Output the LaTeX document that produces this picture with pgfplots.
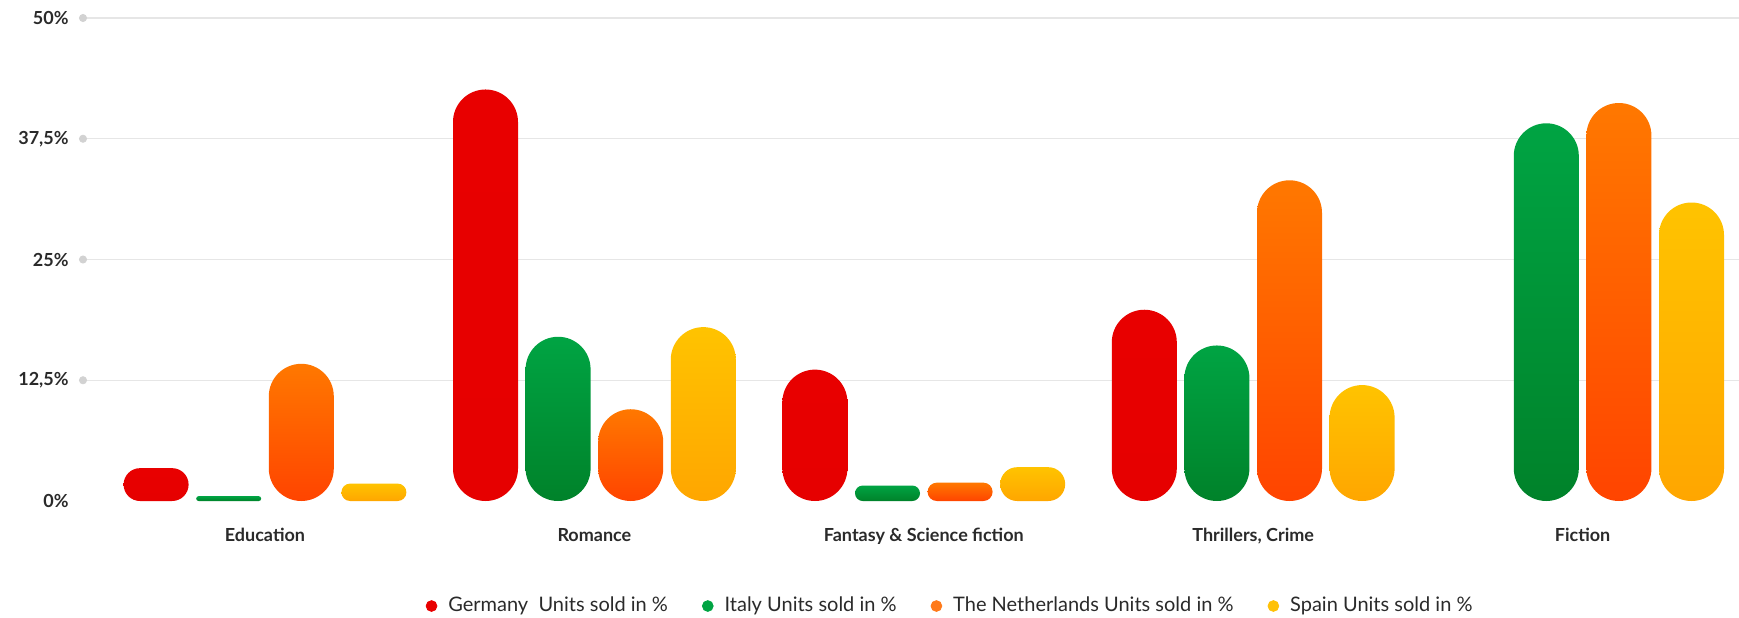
\documentclass[border=0pt]{standalone}
\usepackage{pgfplots}
\pgfplotsset{compat=1.18}
\usepackage{pgfplotstable}
\usepackage{fontspec}
\setmainfont{Lato}

\definecolor{deRed}{HTML}{E80000}
\definecolor{deRedB}{HTML}{E60000}
\definecolor{itTop}{HTML}{00A443}
\definecolor{itBot}{HTML}{00822A}
\definecolor{nlTop}{HTML}{FF7800}
\definecolor{nlBot}{HTML}{FF4400}
\definecolor{esTop}{HTML}{FFC300}
\definecolor{esBot}{HTML}{FFA600}
\definecolor{nlKey}{HTML}{FF7A1A}
\definecolor{esKey}{HTML}{FFC107}
\definecolor{gridGray}{HTML}{E6E6E6}
\definecolor{dotGray}{HTML}{D2D2D2}
\definecolor{labelGray}{HTML}{2A2A2A}

% units sold in %, one row per genre
\pgfplotstableread{
pos de   it   nl   es
0   3.4  0.5  14.2 1.8
1   42.6 17.0 9.5  18.0
2   13.6 1.6  1.9  3.5
3   19.8 16.1 33.2 12.0
4   nan  39.1 41.2 30.9
}\sales

% pill shaped bar hanging from the data point down to 0 %
\newcommand\yunit{4.83}   % pt per percent
\newcommand\pillhw{16.25} % half bar width, pt
\newcommand\declarepill[3]{%
  \pgfdeclareplotmark{#1}{%
    \pgfmathsetmacro\pillh{\pillval*\yunit}%
    \pgfmathsetmacro\pillr{min(\pillhw,\pillh/2)}%
    \path[rounded corners=\pillr pt, top color=#2, bottom color=#3, draw=none]
      (-\pillhw pt,-\pillh pt) rectangle (\pillhw pt,0pt);}}
\declarepill{pillDE}{deRed}{deRedB}
\declarepill{pillIT}{itTop}{itBot}
\declarepill{pillNL}{nlTop}{nlBot}
\declarepill{pillES}{esTop}{esBot}

\begin{document}
\begin{tikzpicture}
\useasboundingbox (0,0) rectangle (869.5pt,308.5pt);
\begin{axis}[
  at={(41.5pt,58pt)}, anchor=south west,
  x=164.7pt, y=4.83pt,
  xmin=-0.5525, xmax=4.4751,
  ymin=0, ymax=50,
  clip=false,
  axis line style={draw=none},
  tick style={draw=none},
  xtick={0,1,2,3,4},
  xticklabels={Education,Romance,Fantasy \& Science fiction,{Thrillers, Crime},Fiction},
  xticklabel style={font=\bfseries\fontsize{9}{10}\selectfont, text=labelGray,
    anchor=base, yshift=-20.3pt},
  ytick={12.5,25,37.5,50},
  yticklabels={{12,5\%},{25\%},{37,5\%},{50\%}},
  extra y ticks={0},
  extra y tick labels={0\%},
  extra y tick style={grid=none},
  yticklabel style={font=\bfseries\fontsize{9}{10}\selectfont, text=labelGray,
    anchor=east, inner sep=0pt, xshift=-7pt},
  ymajorgrids,
  grid style={gridGray, line width=0.7pt},
  visualization depends on={rawy \as \pillval},
  legend columns=4,
  legend style={draw=none, fill=none, at={(0.5242,-0.2174)}, anchor=center,
    font=\fontsize{10}{12}\selectfont, text=labelGray, inner sep=0pt,
    /tikz/every odd column/.style={column sep=3.5pt},
    /tikz/every even column/.style={column sep=15pt}},
  legend image code/.code={\fill[#1] (0pt,0pt) circle (2.7pt);},
]
% dots at the left end of the grid lines
\addplot[only marks, mark=*, mark size=1.8pt, color=dotGray, forget plot]
  coordinates {(-0.5525,12.5) (-0.5525,25) (-0.5525,37.5) (-0.5525,50)};

\addplot[only marks, mark=pillDE, color=deRed]
  table[x expr=\thisrow{pos}-0.3306, y=de] {\sales};
\addlegendentry{Germany\ \ Units sold in \%}
\addplot[only marks, mark=pillIT, color=itTop]
  table[x expr=\thisrow{pos}-0.1102, y=it] {\sales};
\addlegendentry{Italy Units sold in \%}
\addplot[only marks, mark=pillNL, color=nlKey]
  table[x expr=\thisrow{pos}+0.1102, y=nl] {\sales};
\addlegendentry{The Netherlands Units sold in \%}
\addplot[only marks, mark=pillES, color=esKey]
  table[x expr=\thisrow{pos}+0.3306, y=es] {\sales};
\addlegendentry{Spain Units sold in \%}
\end{axis}
\end{tikzpicture}
\end{document}
